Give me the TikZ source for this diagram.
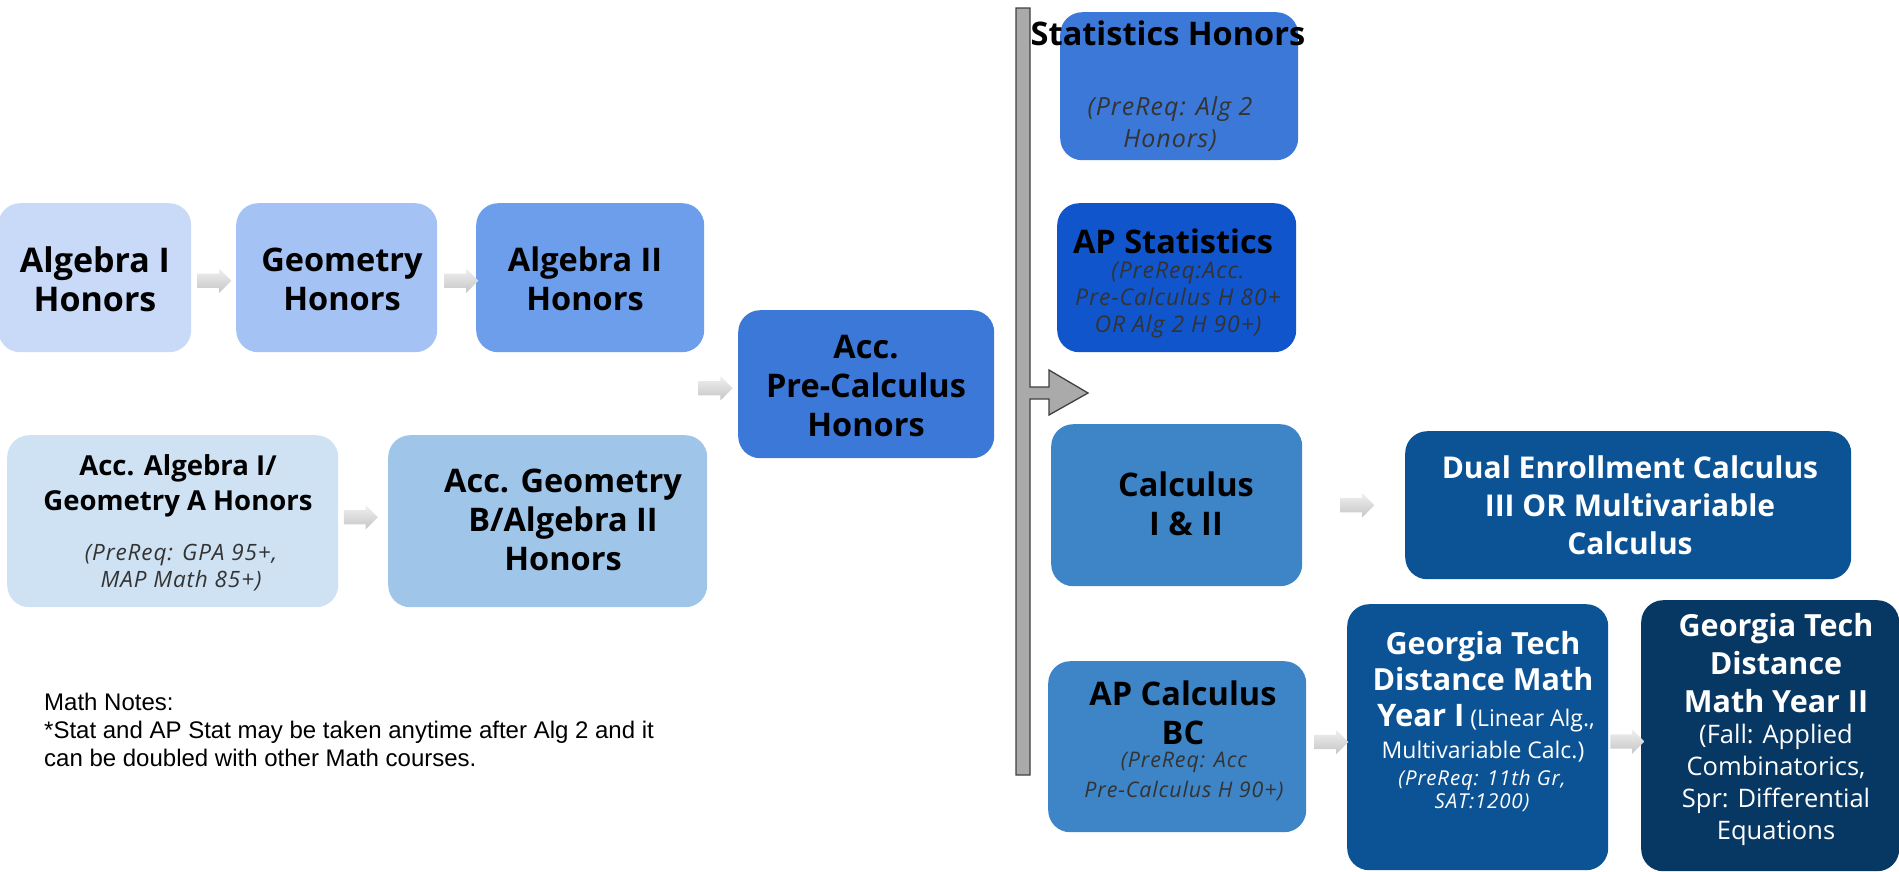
\documentclass[tikz,border=0pt]{standalone}
\usepackage{fontspec}
\setmainfont{Open Sans}
\newfontfamily\prefont[LetterSpace=4]{Open Sans}
\newfontfamily\notefont{Liberation Sans}
\usetikzlibrary{shapes.arrows,calc}
\definecolor{cAI}{HTML}{C9DAF8}
\definecolor{cGeo}{HTML}{A4C2F4}
\definecolor{cAII}{HTML}{6D9EEB}
\definecolor{cPC}{HTML}{3C78D8}
\definecolor{cAccA}{HTML}{CFE2F3}
\definecolor{cAccB}{HTML}{9FC5E8}
\definecolor{cAPS}{HTML}{1155CC}
\definecolor{cCalc}{HTML}{3D85C6}
\definecolor{cDark}{HTML}{0B5394}
\definecolor{cDarker}{HTML}{073763}
\definecolor{barfill}{HTML}{AAAAAA}
\definecolor{barline}{HTML}{404040}
\definecolor{pretext}{HTML}{333333}
\tikzset{
  box/.style={rounded corners=22pt, inner sep=0pt, anchor=north west, draw=none},
  hd/.style={font=\bfseries\fontsize{32.5}{39}\selectfont, align=center, inner sep=0pt},
  pre/.style={align=center, inner sep=0pt, text=pretext},
  reg/.style={align=center, inner sep=0pt},
  garrow/.style={single arrow, minimum height=34pt, inner xsep=0pt, inner ysep=7pt,
     single arrow head extend=5pt, single arrow tip angle=90,
     top color=gray!12, bottom color=gray!45, draw=none}
}
\begin{document}
\begin{tikzpicture}[x=1pt,y=-1pt]
\useasboundingbox (0,0) rectangle (1899,871);
% boxes
\node[box, fill=cAI,  minimum width=193pt, minimum height=149pt] (a1) at (-2,203) {};
\node[box, fill=cGeo, minimum width=201pt, minimum height=149pt] (geo) at (236,203) {};
\node[box, fill=cAII, minimum width=228pt, minimum height=149pt] (a2) at (476,203) {};
\node[box, fill=cPC,  minimum width=256pt, minimum height=148pt] (pc) at (738,310) {};
\node[box, fill=cAccA, minimum width=331pt, minimum height=172pt] (acca) at (7,435) {};
\node[box, fill=cAccB, minimum width=319pt, minimum height=172pt] (accb) at (388,435) {};
\node[box, fill=cPC,  minimum width=238pt, minimum height=148pt] (sth) at (1060,12) {};
\node[box, fill=cAPS, minimum width=239pt, minimum height=149pt] (aps) at (1057,203) {};
\node[box, fill=cCalc, minimum width=251pt, minimum height=162pt] (calc) at (1051,424) {};
\node[box, fill=cCalc, minimum width=258pt, minimum height=171pt] (bc) at (1048,661) {};
\node[box, fill=cDark, minimum width=446pt, minimum height=148pt] (dual) at (1405,431) {};
\node[box, fill=cDark, minimum width=261pt, minimum height=266pt] (gt1) at (1347,604) {};
\node[box, fill=cDarker, minimum width=258pt, minimum height=271pt] (gt2) at (1641,600) {};

% vertical bar with arrow
\draw[fill=barfill, draw=barline, line width=1.3pt]
  (1016,8) -- (1030,8) -- (1030,387) -- (1049,387) -- (1049,370) -- (1088,393)
  -- (1049,415) -- (1049,399) -- (1030,399) -- (1030,775) -- (1016,775) -- cycle;

% texts
\node[hd, font=\bfseries\fontsize{34}{39}\selectfont] (a1t) at (95,279) {Algebra I\\Honors};
\node[hd] (geot) at (342,279) {Geometry\\Honors};
\node[hd] (a2t) at (585,279) {Algebra II\\Honors};
\node[hd] (pct) at (866,386) {Acc.\\Pre-Calculus\\Honors};
\node[hd, font=\bfseries\fontsize{27.5}{35}\selectfont] (accat) at (178,486) {Acc. Algebra I/\\Geometry A Honors};
\node[pre, font=\prefont\itshape\fontsize{22.5}{27}\selectfont] (accap) at (181,568) {(PreReq: GPA 95+,\\MAP Math 85+)};
\node[hd] (accbt) at (563,520) {Acc. Geometry\\B/Algebra II\\Honors};
\node[hd] (stht) at (1168,33) {Statistics Honors};
\node[pre, font=\prefont\itshape\fontsize{25}{32}\selectfont] (sthp) at (1170,124) {(PreReq: Alg 2\\Honors)};
\node[hd] (apst) at (1173,241) {AP Statistics};
\node[pre, font=\prefont\itshape\fontsize{23}{27}\selectfont] (apsp) at (1178,300) {(PreReq:Acc.\\Pre-Calculus H 80+\\OR Alg 2 H 90+)};
\node[hd] (calct) at (1186,504) {Calculus\\I \& II};
\node[hd] (bct) at (1183,713) {AP Calculus\\BC};
\node[pre, font=\prefont\itshape\fontsize{21.5}{30}\selectfont] (bcp) at (1184,777) {(PreReq: Acc\\Pre-Calculus H 90+)};
\node[hd, text=white, font=\bfseries\fontsize{30}{38}\selectfont] (dualt) at (1630,505) {Dual Enrollment Calculus\\III OR Multivariable\\Calculus};
\node[hd, text=white, font=\bfseries\fontsize{30.5}{36}\selectfont] (gt1a) at (1483,661) {Georgia Tech\\Distance Math};
\node[reg, text=white, font=\fontsize{23}{32}\selectfont] (gt1b) at (1486,718) {{\bfseries\fontsize{31}{36}\selectfont Year I} (Linear Alg.,};
\node[reg, text=white, font=\fontsize{23}{32}\selectfont] (gt1c) at (1483,752) {Multivariable Calc.)};
\node[pre, text=white, font=\prefont\itshape\fontsize{20.5}{23}\selectfont] (gt1d) at (1482,791) {(PreReq: 11th Gr,\\SAT:1200)};
\node[hd, text=white, font=\bfseries\fontsize{30.5}{38}\selectfont] (gt2a) at (1776,663) {Georgia Tech\\Distance\\Math Year II};
\node[reg, text=white, font=\fontsize{25.5}{32}\selectfont] (gt2b) at (1776,785) {(Fall: Applied\\Combinatorics,\\Spr: Differential\\Equations};

% connectors
\node[garrow] (ar1) at ($(a1.east)!0.5!(geo.west)+(-3,3)$) {};
\node[garrow] (ar2) at ($(geo.east)!0.5!(a2.west)+(1,3)$) {};
\node[garrow] (ar3) at ($(pc.west)+(-26,4)$) {};
\node[garrow] (ar4) at ($(acca.east)!0.5!(accb.west)+(-6,-4)$) {};
\node[garrow] (ar5) at ($(calc.east)!0.5!(dual.west)$) {};
\node[garrow] (ar6) at ($(bc.east)!0.5!(gt1.west)+(1,0)$) {};
\node[garrow] (ar7) at ($(gt1.east)!0.5!(gt2.west)+(-1,5)$) {};

% notes
\node[anchor=north west, align=left, inner sep=0pt, font=\notefont\fontsize{24}{28}\selectfont] (notes) at (44,693)
  {Math Notes:\\*Stat and AP Stat may be taken anytime after Alg 2 and it\\can be doubled with other Math courses.};
\end{tikzpicture}
\end{document}
